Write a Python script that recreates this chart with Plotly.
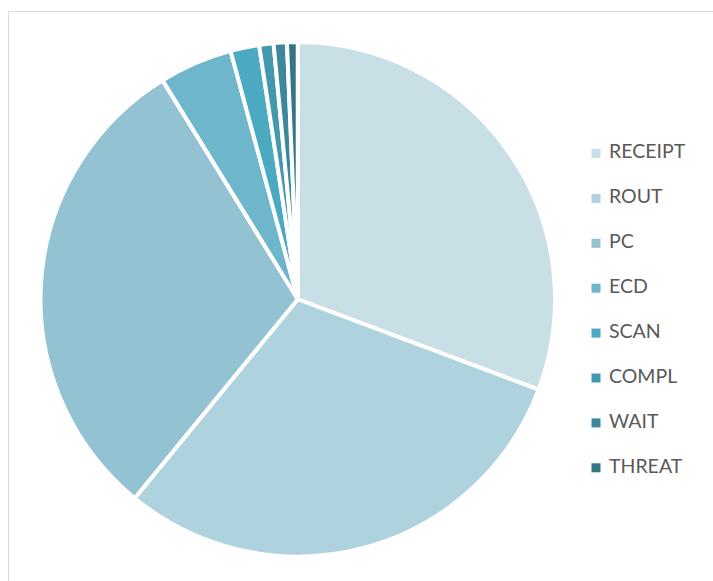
import plotly.graph_objects as go

labels = ["RECEIPT", "ROUT", "PC", "ECD", "SCAN", "COMPL", "WAIT", "THREAT"]
values = [30.7, 30.2, 30.25, 4.6, 1.8, 0.9, 0.83, 0.67]
colors = ["#c8dfe6", "#afd3de", "#93c2d3", "#6db6cc", "#4ba9c1", "#4298ac", "#3b889a", "#357686"]

W, H = 713, 581
fig = go.Figure()

fig.add_trace(go.Pie(
    labels=labels, values=values, sort=False, direction="clockwise", rotation=0,
    marker=dict(colors=colors, line=dict(color="white", width=4)),
    textinfo="none", hoverinfo="label+percent", showlegend=False,
    domain=dict(x=[40.5 / W, 555 / W], y=[1 - 556.5 / H, 1 - 42 / H]),
))

idx = list(range(len(labels)))
fig.add_trace(go.Scatter(
    x=[0] * len(labels), y=idx, mode="markers",
    marker=dict(symbol="square", size=9, color=colors, line=dict(width=0)),
    showlegend=False, hoverinfo="skip",
))
fig.add_trace(go.Scatter(
    x=[1] * len(labels), y=idx, mode="text", text=labels,
    textposition="middle right",
    textfont=dict(family="Lato", size=19.5, color="#595959"),
    showlegend=False, hoverinfo="skip",
))

fig.update_xaxes(visible=False, range=[-596 / 13, -596 / 13 + W / 13], domain=[0, 1])
fig.update_yaxes(visible=False, range=[-153.5 / 44.9 + H / 44.9, -153.5 / 44.9], domain=[0, 1])

fig.add_shape(type="rect", xref="paper", yref="paper",
              x0=8.5 / W, x1=1.05, y0=-0.05, y1=1 - 11.5 / H,
              line=dict(color="#d9d9d9", width=1), layer="below")

fig.update_layout(
    width=W, height=H, margin=dict(l=0, r=0, t=0, b=0),
    paper_bgcolor="white", plot_bgcolor="rgba(0,0,0,0)",
)
fig.write_html("out.html")
